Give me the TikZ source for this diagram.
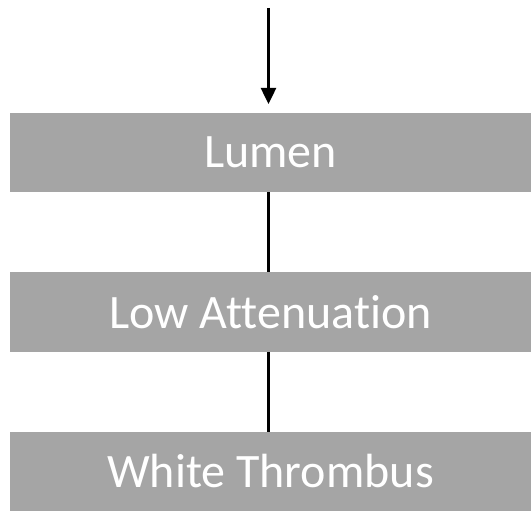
\documentclass[tikz,border=0pt]{standalone}
\usepackage{fontspec}
\setmainfont{Carlito}[Ligatures={NoCommon}]
\usetikzlibrary{arrows.meta}
\begin{document}
\begin{tikzpicture}[x=1pt,y=-1pt,
  boxstyle/.style={fill=boxgray,draw=none,minimum width=521pt,minimum height=79.5pt,inner sep=0pt,text=white,font=\fontsize{48}{56}\selectfont},
  link/.style={line width=2.5pt,black}]
\definecolor{boxgray}{HTML}{A5A5A5}
\useasboundingbox (0,0) rectangle (531,511);
\fill[white] (0,0) rectangle (531,511);
\node[boxstyle] (lumen) at (270.5,152.5) {Lumen};
\node[boxstyle] (low) at (270.5,312) {Low Attenuation};
\node[boxstyle] (white) at (270.5,471.5) {White Thrombus};
\coordinate (start) at (268.5,8);
\coordinate (tip) at (268.5,104);
\draw[link,-{Triangle[width=15pt,length=16pt]}] (start) -- (tip);
\draw[link] (lumen.south -| start) -- (low.north -| start);
\draw[link] (low.south -| start) -- (white.north -| start);
\end{tikzpicture}
\end{document}
